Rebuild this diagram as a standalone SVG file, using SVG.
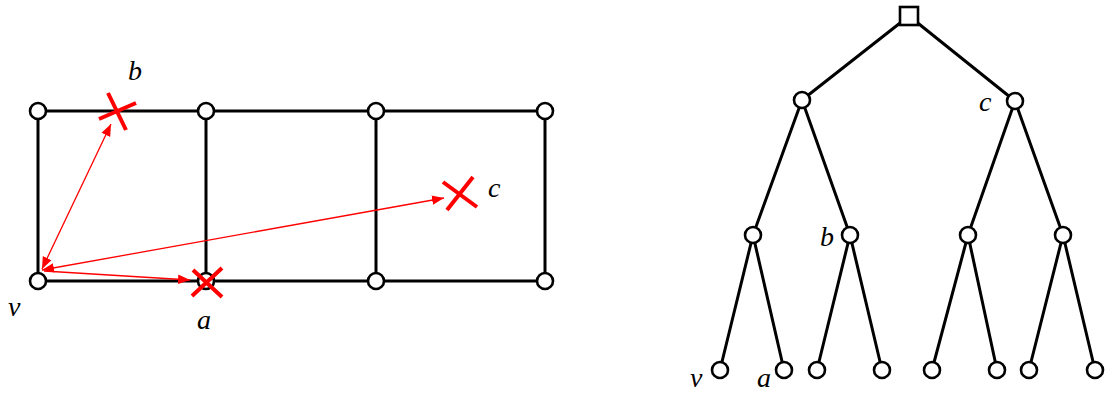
<svg xmlns="http://www.w3.org/2000/svg" width="1105" height="394" viewBox="0 0 1105 394">
<style>
.e{stroke:#000;stroke-width:3;fill:none}
.n{fill:#fff;stroke:#000;stroke-width:2.6}
.x{stroke:#f00;stroke-width:4;stroke-linecap:butt}
.r{stroke:#f00;stroke-width:1.3;fill:none}
.t{font-family:"Liberation Serif",serif;font-style:italic;font-size:28px;fill:#000}
</style>
<defs>
<marker id="ah" viewBox="0 0 10 10" refX="10" refY="5" markerWidth="12" markerHeight="12" markerUnits="userSpaceOnUse" orient="auto-start-reverse">
<path d="M0,1 L10,5 L0,9 z" fill="#f00"/>
</marker>
</defs>
<rect width="1105" height="394" fill="#fff"/>
<g id="connectors">
<g id="grid-edges">
<path class="e" d="M38,111 H545 V281 H38 Z M206,111 V281 M376,111 V281"/>
</g>
<g id="tree-edges">
<path class="e" d="M909,16 L802,100 M909,16 L1015,101 M802,100 L753,235 M802,100 L850,235 M1015,101 L968,235 M1015,101 L1063,235 M753,235 L720,370 M753,235 L784,370 M850,235 L817,370 M850,235 L882,370 M968,235 L932,370 M968,235 L997,370 M1063,235 L1029,370 M1063,235 L1095,370"/>
</g>
<g id="red-arrows">
<line class="r" x1="42" y1="269" x2="111" y2="124" marker-start="url(#ah)" marker-end="url(#ah)"/>
<line class="r" x1="42" y1="270" x2="444" y2="198" marker-start="url(#ah)" marker-end="url(#ah)"/>
<line class="r" x1="44" y1="271" x2="190" y2="280" marker-end="url(#ah)"/>
</g>
</g>
<g id="grid-nodes">
<circle id="g1" class="n" cx="38" cy="111" r="8"/>
<circle id="g2" class="n" cx="206" cy="111" r="8"/>
<circle id="g3" class="n" cx="376" cy="111" r="8"/>
<circle id="g4" class="n" cx="545" cy="111" r="8"/>
<circle id="g5" class="n" cx="38" cy="281" r="8"/>
<circle id="g6" class="n" cx="206" cy="281" r="8"/>
<circle id="g7" class="n" cx="376" cy="281" r="8"/>
<circle id="g8" class="n" cx="545" cy="281" r="8"/>
</g>
<g id="cross-b"><path class="x" d="M99,119 L136,103 M108,93 L126,130"/></g>
<g id="cross-a"><path class="x" d="M192,296 L222,268 M193,270 L222,297"/></g>
<g id="cross-c"><path class="x" d="M447,210 L473,177 M443,182 L477,207"/></g>
<g id="labels-left">
<text class="t" x="128" y="80">b</text>
<text class="t" x="488" y="197">c</text>
<text class="t" x="8" y="316">v</text>
<text class="t" x="197" y="329">a</text>
</g>
<g id="tree-nodes">
<rect id="root" class="n" x="900" y="7" width="18" height="18"/>
<circle id="t1" class="n" cx="802" cy="100" r="8"/>
<circle id="t2" class="n" cx="1015" cy="101" r="8"/>
<circle id="t3" class="n" cx="753" cy="235" r="8"/>
<circle id="t4" class="n" cx="850" cy="235" r="8"/>
<circle id="t5" class="n" cx="968" cy="235" r="8"/>
<circle id="t6" class="n" cx="1063" cy="235" r="8"/>
<circle id="l1" class="n" cx="720" cy="370" r="8"/>
<circle id="l2" class="n" cx="784" cy="370" r="8"/>
<circle id="l3" class="n" cx="817" cy="370" r="8"/>
<circle id="l4" class="n" cx="882" cy="370" r="8"/>
<circle id="l5" class="n" cx="932" cy="370" r="8"/>
<circle id="l6" class="n" cx="997" cy="370" r="8"/>
<circle id="l7" class="n" cx="1029" cy="370" r="8"/>
<circle id="l8" class="n" cx="1095" cy="370" r="8"/>
</g>
<g id="labels-right">
<text class="t" x="979" y="111">c</text>
<text class="t" x="820" y="246">b</text>
<text class="t" x="690" y="387">v</text>
<text class="t" x="757" y="387">a</text>
</g>
</svg>
